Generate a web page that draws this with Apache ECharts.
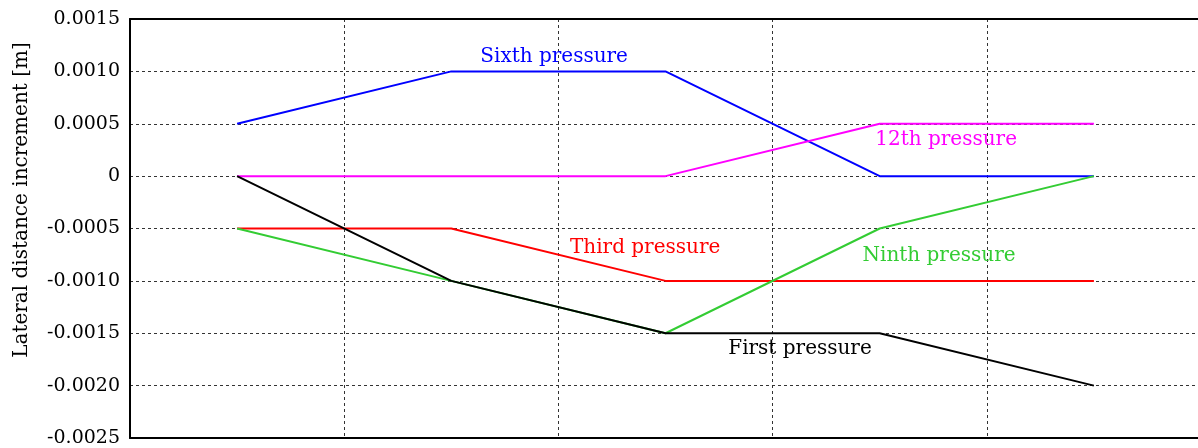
<!DOCTYPE html>
<html>
<head>
<meta charset="utf-8">
<script src="https://cdn.jsdelivr.net/npm/echarts@6/dist/echarts.min.js"></script>
<style>html,body{margin:0;padding:0;background:#fff;overflow:hidden;width:1198px;height:448px;}#c{width:1201px;height:448px;}</style>
</head>
<body>
<div id="c"></div>
<script>
const xPositions = [0.5, 1.5, 2.5, 3.5, 4.5];
const seriesNames = ['Sixth pressure', '12th pressure', 'Third pressure', 'Ninth pressure', 'First pressure'];
const sixth = [0.0005, 0.001, 0.001, 0, 0];
const twelfth = [0, 0, 0, 0.0005, 0.0005];
const third = [-0.0005, -0.0005, -0.001, -0.001, -0.001];
const ninth = [-0.0005, -0.001, -0.0015, -0.0005, 0];
const first = [0, -0.001, -0.0015, -0.0015, -0.002];
const colors = ['#0000ff', '#ff00ff', '#ff0000', '#33cc33', '#000000'];
// annotation anchor points in data units [x, y]
const labelPos = [[1.98, 0.00114], [3.81, 0.00035], [2.405, -0.00068], [3.777, -0.00076], [3.128, -0.00165]];
const yTickLabels = {'0.0015':'0.0015','0.001':'0.0010','0.0005':'0.0005','0':'0','-0.0005':'-0.0005','-0.001':'-0.0010','-0.0015':'-0.0015','-0.002':'-0.0020','-0.0025':'-0.0025'};

const font = 'DejaVu Serif';
const allData = [sixth, twelfth, third, ninth, first];
const chart = echarts.init(document.getElementById('c'), null, {renderer: 'canvas'});
const series = allData.map((vals, i) => ({
  name: seriesNames[i],
  type: 'line',
  data: vals.map((v, j) => [xPositions[j], v]),
  symbol: 'none',
  lineStyle: {color: colors[i], width: 2},
  itemStyle: {color: colors[i]},
  animation: false,
  z: 5,
  markPoint: {
    symbol: 'circle', symbolSize: 0,
    data: [{coord: labelPos[i]}],
    label: {show: true, formatter: seriesNames[i], color: colors[i], fontFamily: font, fontSize: 20, position: 'inside'},
    animation: false
  }
}));
chart.setOption({
  animation: false,
  backgroundColor: '#fff',
  grid: {left: 130, right: 0, top: 19, bottom: 10},
  xAxis: [{
    type: 'value', min: 0, max: 5, interval: 1,
    axisLine: {show: true, onZero: false, lineStyle: {color: '#000', width: 2}},
    axisTick: {show: false}, axisLabel: {show: false},
    splitLine: {show: true, lineStyle: {color: '#333', type: [3, 3], width: 1}}
  }, {
    type: 'value', min: 0, max: 5, interval: 1, position: 'top',
    axisLine: {show: true, onZero: false, lineStyle: {color: '#000', width: 2}},
    axisTick: {show: false}, axisLabel: {show: false}, splitLine: {show: false}
  }],
  yAxis: {
    type: 'value', min: -0.0025, max: 0.0015, interval: 0.0005,
    axisLine: {show: true, onZero: false, lineStyle: {color: '#000', width: 2}},
    axisTick: {show: false},
    axisLabel: {
      margin: 10, color: '#000', fontFamily: font, fontSize: 19,
      formatter: v => { const k = String(+v.toFixed(4)); return yTickLabels[k] !== undefined ? yTickLabels[k] : k; }
    },
    splitLine: {show: true, lineStyle: {color: '#333', type: [3, 3], width: 1}}
  },
  graphic: [{
    type: 'text', x: 22, y: 200, rotation: Math.PI / 2,
    style: {text: 'Lateral distance increment [m]', fill: '#000', font: '20px "DejaVu Serif"', textAlign: 'center', textVerticalAlign: 'middle'}
  }],
  series: series
});
</script>
</body>
</html>
